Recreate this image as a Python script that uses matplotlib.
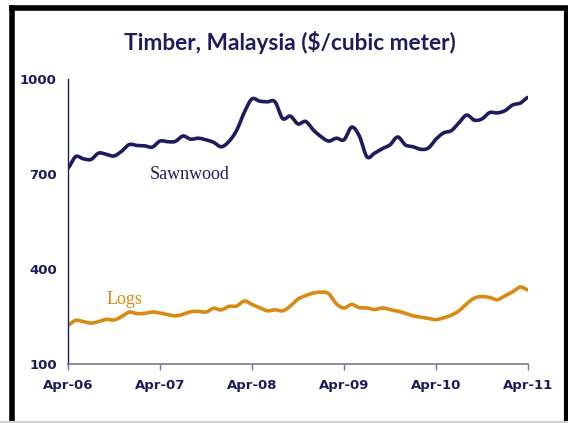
import matplotlib
matplotlib.use("Agg")
import matplotlib.pyplot as plt
from matplotlib.lines import Line2D
import numpy as np

title = "Timber, Malaysia ($/cubic meter)"
tick_labels = ["Apr-06", "Apr-07", "Apr-08", "Apr-09", "Apr-10", "Apr-11"]
y_ticks = [100, 400, 700, 1000]

sawnwood = [719, 755, 748, 746, 766, 762, 757, 772, 793, 790, 789, 785,
            804, 802, 803, 820, 810, 813, 808, 800, 786, 803, 838, 895,
            937, 930, 928, 928, 875, 883, 858, 866, 839, 818, 804, 813,
            808, 848, 820, 754, 766, 780, 792, 817, 792, 786, 778, 782,
            810, 830, 837, 862, 886, 870, 874, 894, 893, 900, 918, 924,
            942]
logs = [223, 238, 234, 229, 234, 241, 239, 250, 264, 259, 260, 264,
        261, 256, 252, 257, 265, 266, 264, 276, 271, 282, 283, 299,
        288, 278, 268, 271, 268, 283, 305, 316, 324, 327, 322, 290,
        277, 288, 278, 277, 272, 277, 272, 267, 260, 252, 248, 244,
        240, 246, 254, 268, 290, 308, 313, 310, 303, 315, 328, 343,
        334]

navy = "#1c1c5e"
orange = "#d88a12"


def smooth_path(y, steps=8):
    """Catmull-Rom rendering of the line (like a spreadsheet 'smoothed line')."""
    y = np.asarray(y, dtype=float)
    x = np.arange(len(y), dtype=float)
    p = np.concatenate([[y[0]], y, [y[-1]]])
    xs, ys = [], []
    t = np.linspace(0, 1, steps, endpoint=False)
    for i in range(len(y) - 1):
        p0, p1, p2, p3 = p[i], p[i + 1], p[i + 2], p[i + 3]
        seg = 0.5 * ((2 * p1) + (-p0 + p2) * t + (2 * p0 - 5 * p1 + 4 * p2 - p3) * t ** 2
                     + (-p0 + 3 * p1 - 3 * p2 + p3) * t ** 3)
        xs.append(x[i] + t)
        ys.append(seg)
    xs.append([x[-1]])
    ys.append([y[-1]])
    return np.concatenate(xs), np.concatenate(ys)


W, H = 568, 423
fig = plt.figure(figsize=(W / 100, H / 100), dpi=100)
fig.patch.set_facecolor("white")

ax = fig.add_axes([68 / W, 1 - 364 / H, 460 / W, 285 / H])
for series, col in [(sawnwood, navy), (logs, orange)]:
    sx, sy = smooth_path(series)
    ax.plot(sx, sy, color=col, lw=2.6, solid_capstyle="round",
            solid_joinstyle="round")

ax.set_xlim(0, 60)
ax.set_ylim(100, 1000)
ax.set_xticks(np.arange(0, 61, 12))
ax.set_xticklabels(tick_labels)
ax.set_yticks(y_ticks)
ax.set_yticklabels([str(v) for v in y_ticks])

for s in ["top", "right"]:
    ax.spines[s].set_visible(False)
ax.spines["left"].set_color(navy)
ax.spines["left"].set_linewidth(1.0)
ax.spines["bottom"].set_color("#7474a0")
ax.spines["bottom"].set_linewidth(1.2)
ax.tick_params(axis="y", length=0, pad=8, labelsize=9.5, labelcolor=navy)
ax.tick_params(axis="x", length=4, width=1, color="#7474a0", pad=7,
               labelsize=9.5, labelcolor=navy)
for lab in ax.get_xticklabels() + ax.get_yticklabels():
    lab.set_fontweight("bold")
    lab.set_fontfamily("DejaVu Sans")

ax.text(10.7, 700, "Sawnwood", color=navy, fontsize=13,
        family="Liberation Serif", va="center", ha="left")
ax.text(5.0, 305, "Logs", color=orange, fontsize=13,
        family="Liberation Serif", va="center", ha="left")

fig.text(290 / W, 1 - 42 / H, title, ha="center", va="center",
         fontsize=16.3, fontweight="bold", color=navy, family="Lato")

# frame
fig.add_artist(Line2D([11.5 / W, 11.5 / W], [0, 1 - 8.5 / H], color="black",
                      lw=4, transform=fig.transFigure, solid_capstyle="projecting"))
fig.add_artist(Line2D([11.5 / W, 1], [1 - 8.5 / H, 1 - 8.5 / H], color="black",
                      lw=4, transform=fig.transFigure))
fig.add_artist(Line2D([566 / W, 566 / W], [0, 1 - 8.5 / H], color="black",
                      lw=3, transform=fig.transFigure))
fig.add_artist(Line2D([0, 1], [1.5 / H, 1.5 / H], color="#d0d0d0",
                      lw=1.5, transform=fig.transFigure))

fig.savefig("out.png", dpi=100)
